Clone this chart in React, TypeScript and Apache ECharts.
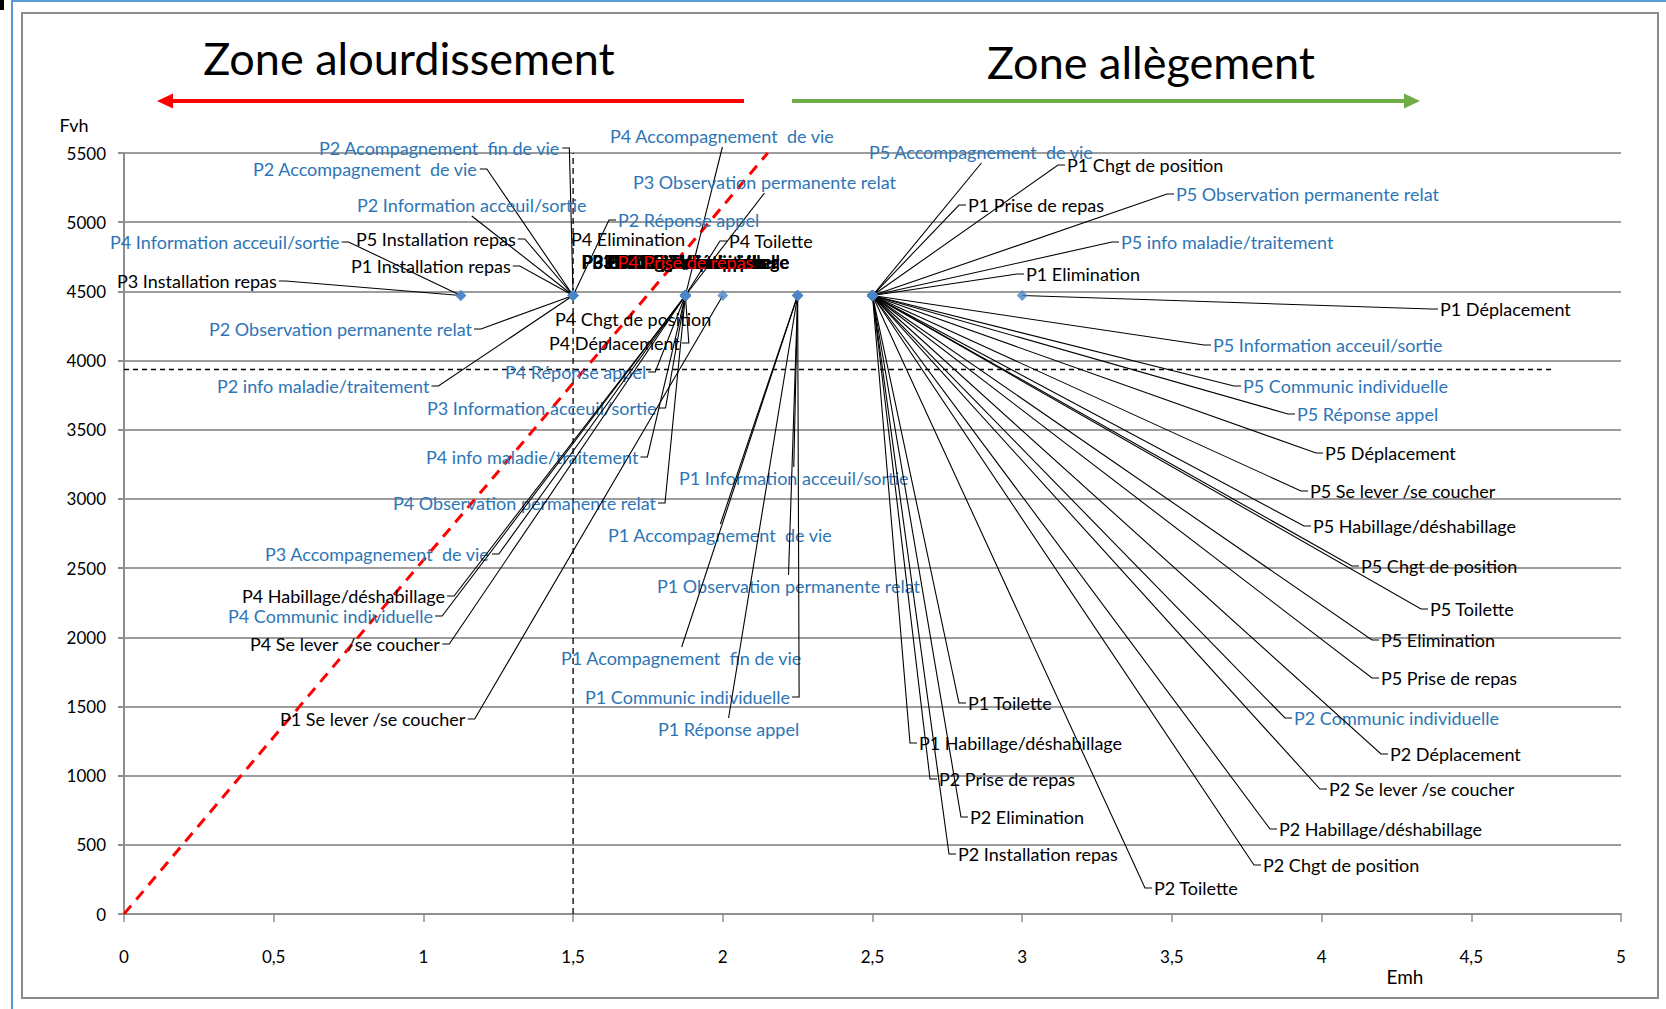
import React, { useEffect, useRef } from "react";
import * as echarts from "echarts";

// Points (Emh, Fvh)
const pointEmh = [1.125, 1.5, 1.875, 2.0, 2.25, 2.5, 3.0];
const pointFvh = [4470, 4470, 4470, 4470, 4470, 4470, 4470];

// Activity labels: [text, point index, colour key]
const activities: [string, number, string][] = [
  ["P2 Acompagnement  fin de vie", 1, "b"],
  ["P2 Accompagnement  de vie", 1, "b"],
  ["P2 Information acceuil/sortie", 1, "b"],
  ["P4 Information acceuil/sortie", 0, "b"],
  ["P5 Installation repas", 1, "k"],
  ["P1 Installation repas", 1, "k"],
  ["P3 Installation repas", 0, "k"],
  ["P2 Observation permanente relat", 1, "b"],
  ["P2 info maladie/traitement", 1, "b"],
  ["P4 Chgt de position", 2, "k"],
  ["P4 Déplacement", 2, "k"],
  ["P4 Réponse appel", 2, "b"],
  ["P3 Information acceuil/sortie", 2, "b"],
  ["P4 info maladie/traitement", 2, "b"],
  ["P4 Observation permanente relat", 2, "b"],
  ["P3 Accompagnement  de vie", 2, "b"],
  ["P4 Habillage/déshabillage", 2, "k"],
  ["P4 Communic individuelle", 2, "b"],
  ["P4 Se lever  /se coucher", 2, "k"],
  ["P1 Se lever /se coucher", 3, "k"],
  ["P4 Accompagnement  de vie", 2, "b"],
  ["P3 Observation permanente relat", 2, "b"],
  ["P2 Réponse appel", 1, "b"],
  ["P4 Elimination", 2, "k"],
  ["P4 Toilette", 2, "k"],
  ["P1 Information acceuil/sortie", 4, "b"],
  ["P1 Accompagnement  de vie", 4, "b"],
  ["P1 Observation permanente relat", 4, "b"],
  ["P1 Acompagnement  fin de vie", 4, "b"],
  ["P1 Communic individuelle", 4, "b"],
  ["P1 Réponse appel", 4, "b"],
  ["P5 Accompagnement  de vie", 5, "b"],
  ["P1 Chgt de position", 5, "k"],
  ["P1 Prise de repas", 5, "k"],
  ["P5 Observation permanente relat", 5, "b"],
  ["P5 info maladie/traitement", 5, "b"],
  ["P1 Elimination", 5, "k"],
  ["P1 Déplacement", 6, "k"],
  ["P5 Information acceuil/sortie", 5, "b"],
  ["P5 Communic individuelle", 5, "b"],
  ["P5 Réponse appel", 5, "b"],
  ["P5 Déplacement", 5, "k"],
  ["P5 Se lever /se coucher", 5, "k"],
  ["P5 Habillage/déshabillage", 5, "k"],
  ["P5 Chgt de position", 5, "k"],
  ["P5 Toilette", 5, "k"],
  ["P5 Elimination", 5, "k"],
  ["P5 Prise de repas", 5, "k"],
  ["P2 Communic individuelle", 5, "b"],
  ["P2 Déplacement", 5, "k"],
  ["P2 Se lever /se coucher", 5, "k"],
  ["P2 Habillage/déshabillage", 5, "k"],
  ["P2 Chgt de position", 5, "k"],
  ["P2 Toilette", 5, "k"],
  ["P2 Installation repas", 5, "k"],
  ["P2 Elimination", 5, "k"],
  ["P2 Prise de repas", 5, "k"],
  ["P1 Habillage/déshabillage", 5, "k"],
  ["P1 Toilette", 5, "k"],
  // labels left at their default place above the point (overlapping)
  ["P3 Habillage/déshabillage", 2, "k"],
  ["P3 Communic individuelle", 2, "k"],
  ["P3 Se lever /se coucher", 2, "k"],
  ["P3 Chgt de position", 2, "k"],
  ["P3 Déplacement", 2, "k"],
  ["P3 Elimination", 2, "k"],
  ["P3 Toilette", 2, "k"],
  ["P3 Prise de repas", 2, "k"],
  ["P3 Réponse appel", 2, "k"],
  ["P4 Installation repas", 2, "k"],
  ["P4 Prise de repas", 2, "r"],
];

// Label placement (pixel: left edge, vertical centre); null = default above the point
const labelPlacement: ([number, number] | null)[] = [
  [319, 148], [253, 169], [357, 205], [110, 242], [356, 239], [351, 266], [117, 281],
  [209, 329], [217, 386], [555, 319], [549, 343], [505, 372], [427, 408], [426, 457],
  [393, 503], [265, 554], [242, 596], [228, 616], [250, 644], [280, 719],
  [610, 136], [633, 182], [618, 220], [571, 239], [729, 241],
  [679, 478], [608, 535], [657, 586], [561, 658], [585, 697], [658, 729],
  [869, 152], [1067, 165], [968, 205], [1176, 194], [1121, 242], [1026, 274],
  [1440, 309], [1213, 345], [1243, 386], [1297, 414], [1325, 453], [1310, 491],
  [1313, 526], [1361, 566], [1430, 609], [1381, 640], [1381, 678], [1294, 718],
  [1390, 754], [1329, 789], [1279, 829], [1263, 865], [1154, 888], [958, 854],
  [970, 817], [939, 779], [919, 743], [968, 703],
  null, null, null, null, null, null, null, null, null, null, null,
];
const labelsWithoutLeader = ["P4 Elimination", "P4 Chgt de position"];

// Reference lines
const diagonalLine = [[0, 0], [2.15, 5500]];
const emhThreshold = [[1.5, 0], [1.5, 5500]];
const fvhThreshold = [[0, 3936], [4.77, 3936]];

const colorMap: Record<string, string> = { b: "#2E75B6", k: "#000000", r: "#FF0000" };
const FONT = "Lato";
const LABEL_SIZE = 18;

let measureCtx: CanvasRenderingContext2D | null = null;
function textWidth(text: string, font: string) {
  if (!measureCtx) measureCtx = document.createElement("canvas").getContext("2d");
  if (!measureCtx) return text.length * 8;
  measureCtx.font = font;
  return measureCtx.measureText(text).width;
}

export default function App() {
  const ref = useRef<HTMLDivElement>(null);
  useEffect(() => {
    document.body.style.margin = "0";
    if (!ref.current) return;
    const chart = echarts.init(ref.current, null, { renderer: "svg" });

    const pointData = activities.map(([, pi]) => [pointEmh[pi], pointFvh[pi]]);

    const renderLabel = (params: any, api: any) => {
      const idx = params.dataIndex;
      const [name, , ck] = activities[idx];
      const p = api.coord([api.value(0), api.value(1)]);
      const place = labelPlacement[idx];
      const fill = colorMap[ck];
      const children: any[] = [];
      if (!place) {
        const font = ck === "r" ? `${LABEL_SIZE}px ${FONT}` : `bold ${LABEL_SIZE}px ${FONT}`;
        children.push({
          type: "text",
          x: p[0],
          y: p[1] - 34,
          style: {
            text: name, font, fill,
            align: "center", verticalAlign: "middle",
            textAlign: "center", textVerticalAlign: "middle",
          },
        });
        return { type: "group", children };
      }
      const font = `${LABEL_SIZE}px ${FONT}`;
      const w = textWidth(name, font);
      const h = 22;
      const [L, cy] = place;
      const R = L + w;
      if (labelsWithoutLeader.indexOf(name) < 0) {
        let pts: number[][];
        if (p[0] >= L && p[0] <= R) {
          const cx = (L + R) / 2;
          pts = cy > p[1] ? [p, [cx, cy - h / 2]] : [p, [cx, cy + h / 2]];
        } else if (L > p[0]) {
          pts = [p, [L - 9, cy], [L - 2, cy]];
        } else {
          pts = [p, [R + 9, cy], [R + 2, cy]];
        }
        children.push({
          type: "polyline",
          shape: { points: pts },
          style: { stroke: "#000", lineWidth: 1.1, fill: null },
        });
      }
      children.push({
        type: "text",
        x: L,
        y: cy,
        style: {
          text: name, font, fill,
          align: "left", verticalAlign: "middle",
          textAlign: "left", textVerticalAlign: "middle",
        },
      });
      return { type: "group", children };
    };

    const grey = "#8E8E8E";
    chart.setOption({
      animation: false,
      grid: { left: 124, right: 45, top: 153, bottom: 95, containLabel: false },
      xAxis: {
        type: "value",
        min: 0,
        max: 5,
        interval: 0.5,
        axisLine: { show: true, lineStyle: { color: grey, width: 2 } },
        axisTick: { show: true, length: 8, lineStyle: { color: grey, width: 1.5 } },
        splitLine: { show: false },
        axisLabel: {
          fontFamily: FONT,
          fontSize: 17,
          color: "#000",
          margin: 34,
          formatter: (v: number) => String(v).replace(".", ","),
        },
      },
      yAxis: {
        type: "value",
        min: 0,
        max: 5500,
        interval: 500,
        axisLine: { show: true, lineStyle: { color: grey, width: 2 } },
        axisTick: { show: true, length: 6, lineStyle: { color: grey, width: 2 } },
        splitLine: { show: true, lineStyle: { color: "#9C9C9C", width: 2 } },
        axisLabel: {
          fontFamily: FONT,
          fontSize: 17,
          color: "#000",
          margin: 18,
          formatter: (v: number) => String(v),
        },
      },
      series: [
        {
          type: "line",
          data: diagonalLine,
          showSymbol: false,
          silent: true,
          z: 2,
          lineStyle: { color: "#FF0000", width: 3, type: [11, 8] },
        },
        {
          type: "line",
          data: emhThreshold,
          showSymbol: false,
          silent: true,
          z: 2,
          lineStyle: { color: "#000", width: 1.3, type: [6, 4] },
        },
        {
          type: "line",
          data: fvhThreshold,
          showSymbol: false,
          silent: true,
          z: 2,
          lineStyle: { color: "#000", width: 1.5, type: [5, 4] },
        },
        {
          type: "custom",
          z: 4,
          clip: false,
          silent: true,
          encode: { x: 0, y: 1 },
          data: pointData,
          renderItem: renderLabel,
        },
        {
          type: "scatter",
          z: 5,
          symbol: "diamond",
          symbolSize: 11,
          silent: true,
          itemStyle: { color: "#4A86C8" },
          data: pointData,
        },
      ],
      graphic: [
        { type: "rect", shape: { x: 0, y: 0, width: 4, height: 10 }, style: { fill: "#000" }, silent: true },
        { type: "line", shape: { x1: 12, y1: 0, x2: 12, y2: 1009 }, style: { stroke: "#5B9BD5", lineWidth: 2 }, silent: true },
        { type: "line", shape: { x1: 12, y1: 1, x2: 1666, y2: 1 }, style: { stroke: "#5B9BD5", lineWidth: 2 }, silent: true },
        {
          type: "rect",
          shape: { x: 22, y: 13, width: 1636, height: 985 },
          style: { fill: "none", stroke: "#8C8C8C", lineWidth: 2 },
          silent: true,
        },
        {
          type: "text",
          x: 409,
          y: 58,
          style: {
            text: "Zone alourdissement",
            font: `45px ${FONT}`,
            fill: "#000",
            align: "center",
            verticalAlign: "middle",
            textAlign: "center",
            textVerticalAlign: "middle",
          },
        },
        {
          type: "text",
          x: 1151,
          y: 62,
          style: {
            text: "Zone allègement",
            font: `45px ${FONT}`,
            fill: "#000",
            align: "center",
            verticalAlign: "middle",
            textAlign: "center",
            textVerticalAlign: "middle",
          },
        },
        { type: "line", shape: { x1: 168, y1: 101, x2: 744, y2: 101 }, style: { stroke: "#FF0000", lineWidth: 4 } },
        { type: "polygon", shape: { points: [[157, 101], [173, 93.5], [173, 108.5]] }, style: { fill: "#FF0000" } },
        { type: "line", shape: { x1: 792, y1: 101, x2: 1406, y2: 101 }, style: { stroke: "#70AD47", lineWidth: 4 } },
        { type: "polygon", shape: { points: [[1420, 101], [1404, 93.5], [1404, 108.5]] }, style: { fill: "#70AD47" } },
        {
          type: "text",
          x: 74,
          y: 125,
          style: {
            text: "Fvh",
            font: `18px ${FONT}`,
            fill: "#000",
            align: "center",
            verticalAlign: "middle",
            textAlign: "center",
            textVerticalAlign: "middle",
          },
        },
        {
          type: "text",
          x: 1405,
          y: 976,
          style: {
            text: "Emh",
            font: `19px ${FONT}`,
            fill: "#000",
            align: "center",
            verticalAlign: "middle",
            textAlign: "center",
            textVerticalAlign: "middle",
          },
        },
      ],
    });
    return () => chart.dispose();
  }, []);
  return <div ref={ref} style={{ width: 1666, height: 1009 }} />;
}
